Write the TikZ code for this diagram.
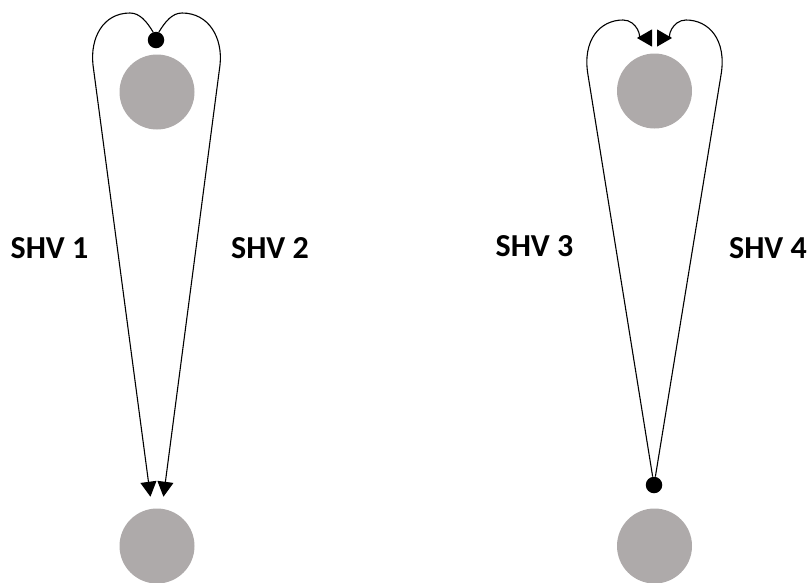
\documentclass[tikz,border=0pt]{standalone}
\usepackage{fontspec}
\setmainfont{Carlito}
\usetikzlibrary{arrows.meta}
\definecolor{ballgray}{HTML}{AEAAAA}
\begin{document}
\begin{tikzpicture}[x=1pt,y=-1pt,
  ball/.style={circle,fill=ballgray,minimum size=75pt,inner sep=0pt},
  dot/.style={circle,fill=black,minimum size=16.5pt,inner sep=0pt},
  wire/.style={line width=1.1pt,black},
  downtip/.style={-{Triangle[length=15pt,width=16pt]}},
  backtip/.style={-{Triangle[reversed,length=15pt,width=17pt]}},
  lbl/.style={font=\bfseries\fontsize{32}{36}\selectfont,anchor=base,inner sep=0pt}]
\useasboundingbox (0,0) rectangle (808,582);
% left diagram
\node[ball] (t1) at (157,92) {};
\node[ball] (b1) at (157,546) {};
\node[dot] (d1) at (156,40) {};
\coordinate (l1) at (93,65);
\coordinate (r1) at (220,65);
\draw[wire,downtip,shorten >=12pt] (d1.110) .. controls (147,22) and (140,13) .. (130,13)
  .. controls (103,13) and (90,38) .. (l1) -- (b1);
\draw[wire,downtip,shorten >=12pt] (d1.70) .. controls (165,22) and (172,13) .. (182,13)
  .. controls (209,13) and (223,38) .. (r1) -- (b1);
% right diagram
\node[ball] (t2) at (654.5,91) {};
\node[ball] (b2) at (654.5,546) {};
\node[dot] (d2) at (654,485) {};
\coordinate (l2) at (588,75);
\coordinate (r2) at (721,75);
\coordinate (e3) at (652,38);
\coordinate (e4) at (657,38);
\draw[wire,backtip] (d2) -- (l2) .. controls (582,40) and (600,20) .. (623,20)
  .. controls (637,20) and (642,38) .. (e3);
\draw[wire,backtip] (d2) -- (r2) .. controls (727,40) and (709,20) .. (686,20)
  .. controls (672,20) and (667,38) .. (e4);
% labels
\node[lbl] (s1) at (49.5,258) {SHV 1};
\node[lbl] (s2) at (270,258) {SHV 2};
\node[lbl] (s3) at (534.5,256) {SHV 3};
\node[lbl] (s4) at (768,258) {SHV 4};
\end{tikzpicture}
\end{document}
